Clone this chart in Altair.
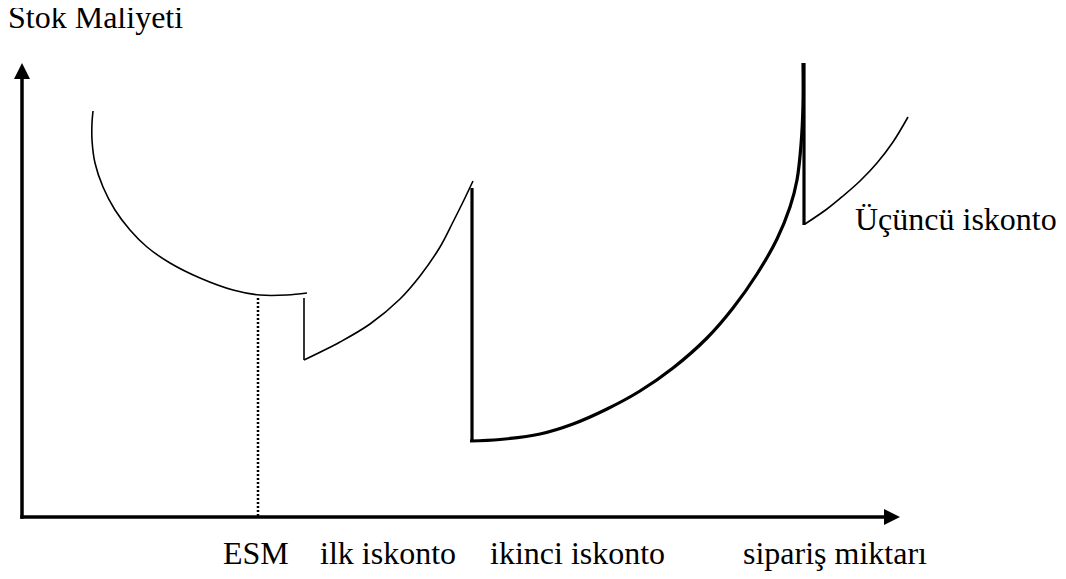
import altair as alt
import pandas as pd

# Chart units: x = order quantity from the origin, y = stock cost above the axis
# Total cost curve without discount (thin)
c1_x = [71, 70, 70, 73, 81, 93, 108, 125, 148, 178, 211, 238, 265, 285]
c1_y = [406, 394, 377, 354, 330, 307, 287, 270, 254, 239, 227, 222, 222, 224]

# First discount: drop (thin) then curve (thin)
v1_x = [282, 282]
v1_y = [219, 157]
c2_x = [282, 318, 348, 378, 398, 418, 431, 441, 451]
c2_y = [157, 175, 193, 218, 241, 270, 295, 315, 336]

# Second discount: drop (thick) then curve (thick)
v2_x = [450, 450]
v2_y = [329, 76]
c3_x = [448, 478, 518, 551, 585, 618, 651, 685, 711, 735, 755, 768, 775, 779, 781, 781]
c3_y = [76, 77.5, 83, 93, 108, 126, 149, 179, 209, 243, 278, 310, 337, 372, 412, 454]

# Third discount: drop (thick) then curve (thin)
v3_x = [782, 782]
v3_y = [454, 292]
c4_x = [783, 805, 821, 838, 855, 871, 886]
c4_y = [293, 308, 321, 336, 354, 375, 400]

# ESM (EOQ) marker
esm_x = [236, 236]
esm_y = [219, 0]

# Axes
axis_x_x = [0, 864]
axis_x_y = [0, 0]
axis_y_x = [0, 0]
axis_y_y = [0, 440]

# Text labels
label_text = ["ESM", "ilk iskonto", "ikinci iskonto", "sipariş miktarı", "Üçüncü iskonto", "Stok Maliyeti"]
label_x = [201, 298, 468, 721, 833, -14]
label_y = [-47, -47, -47, -47, 287, 489]

XDOM = [-14, 1036]
YDOM = [-54, 509]
FONT = "Liberation Serif"


def seg(xs, ys, name):
    return pd.DataFrame({"x": xs, "y": ys, "i": list(range(len(xs))), "seg": name})


xs = alt.Scale(domain=XDOM, nice=False, zero=False)
ys = alt.Scale(domain=YDOM, nice=False, zero=False)


def line_layer(df, width, dash=None, cap="butt", interp="linear"):
    kw = dict(color="black", strokeWidth=width, strokeCap=cap, strokeJoin="round", interpolate=interp)
    if dash:
        kw["strokeDash"] = dash
    return alt.Chart(df).mark_line(**kw).encode(
        x=alt.X("x:Q", scale=xs, axis=None),
        y=alt.Y("y:Q", scale=ys, axis=None),
        detail="seg:N",
        order="i:Q",
    )


thin_curves = pd.concat([seg(c1_x, c1_y, "c1"), seg(c2_x, c2_y, "c2"), seg(c4_x, c4_y, "c4")])
thick_curves = seg(c3_x, c3_y, "c3")
thin_drops = seg(v1_x, v1_y, "v1")
thick_drops = pd.concat([seg(v2_x, v2_y, "v2"), seg(v3_x, v3_y, "v3")])
axes = pd.concat([seg(axis_x_x, axis_x_y, "ax"), seg(axis_y_x, axis_y_y, "ay")])
dotted = seg(esm_x, esm_y, "esm")

arrows = pd.DataFrame({"x": [0, 870], "y": [446, 0], "dir": ["up", "right"]})
up_arrow = alt.Chart(arrows[arrows.dir == "up"]).mark_point(
    shape="M0,-1L1,1L-1,1Z", filled=True, size=256, color="black", opacity=1, strokeWidth=0
).encode(x=alt.X("x:Q", scale=xs, axis=None), y=alt.Y("y:Q", scale=ys, axis=None))
right_arrow = alt.Chart(arrows[arrows.dir == "right"]).mark_point(
    shape="M1,0L-1,-1L-1,1Z", filled=True, size=256, color="black", opacity=1, strokeWidth=0
).encode(x=alt.X("x:Q", scale=xs, axis=None), y=alt.Y("y:Q", scale=ys, axis=None))

labels = pd.DataFrame({"t": label_text, "x": label_x, "y": label_y})
text = alt.Chart(labels).mark_text(
    align="left", baseline="alphabetic", font=FONT, fontSize=32, color="black"
).encode(
    x=alt.X("x:Q", scale=xs, axis=None),
    y=alt.Y("y:Q", scale=ys, axis=None),
    text="t:N",
)

chart = alt.layer(
    line_layer(axes, 3.5, cap="square"),
    line_layer(dotted, 2.5, dash=[2, 2]),
    line_layer(thin_drops, 1.6),
    line_layer(thick_drops, 3.2),
    line_layer(thin_curves, 1.6, interp="catmull-rom"),
    line_layer(thick_curves, 3.2, interp="catmull-rom"),
    up_arrow,
    right_arrow,
    text,
).properties(
    width=1050,
    height=563,
    autosize=alt.AutoSizeParams(type="none"),
    padding=0,
).configure_view(stroke=None)

chart.save("out.html", embed_options={"renderer": "svg", "actions": False})
